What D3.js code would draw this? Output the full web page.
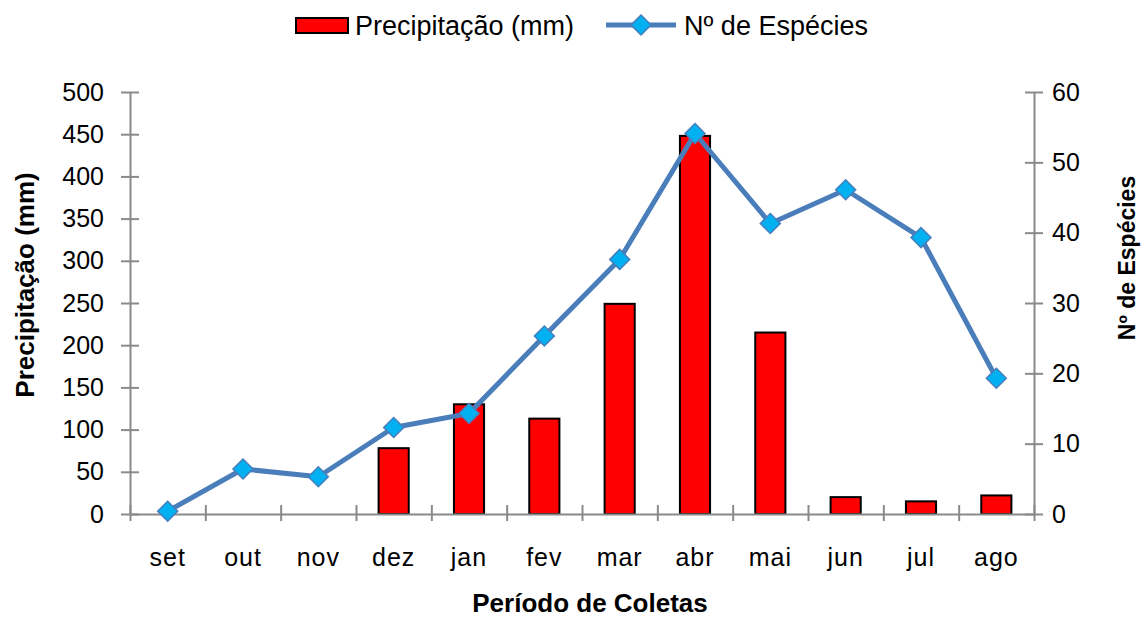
<!DOCTYPE html>
<html>
<head>
<meta charset="utf-8">
<script src="https://cdn.jsdelivr.net/npm/d3@7"></script>
<style>
  body { margin: 0; background: #fff; }
  svg text { font-family: "Liberation Sans", Arial, sans-serif; fill: #000; }
</style>
</head>
<body>
<div id="chart"></div>
<script>
// data
var months = ["set", "out", "nov", "dez", "jan", "fev", "mar", "abr", "mai", "jun", "jul", "ago"];
var precip = [0, 0, 0, 78, 130, 113, 249, 448, 215, 20, 15, 22];
var species = [0.4, 6.4, 5.3, 12.3, 14.3, 25.3, 36.2, 54.1, 41.3, 46.1, 39.3, 19.3];
var leftTicks = [0, 50, 100, 150, 200, 250, 300, 350, 400, 450, 500];
var rightTicks = [0, 10, 20, 30, 40, 50, 60];

var svgWidth = 1147;
var svgHeight = 617;

var margin = { top: 92, right: 113, bottom: 103, left: 130 };
var width = svgWidth - margin.left - margin.right;
var height = svgHeight - margin.top - margin.bottom;

var axisColor = "#8a8a8a";

var svg = d3.select("#chart")
  .append("svg")
  .attr("width", svgWidth)
  .attr("height", svgHeight);

var chartGroup = svg.append("g")
  .attr("transform", `translate(${margin.left}, ${margin.top})`);

// scales
var xBand = d3.scaleBand().domain(months).range([0, width]).padding(0);
var xEdge = d3.scaleLinear().domain([0, months.length]).range([0, width]);
var yLeft = d3.scaleLinear().domain([0, 500]).range([height, 0]);
var yRight = d3.scaleLinear().domain([0, 60]).range([height, 0]);

// bars
var barW = xBand.bandwidth() * 0.4;
chartGroup.selectAll("rect.bar")
  .data(precip)
  .enter()
  .append("rect")
  .attr("class", "bar")
  .attr("x", (d, i) => xBand(months[i]) + (xBand.bandwidth() - barW) / 2)
  .attr("y", d => yLeft(d))
  .attr("width", barW)
  .attr("height", d => height - yLeft(d))
  .attr("fill", "#ff0000")
  .attr("stroke", d => d > 0 ? "#000" : "none")
  .attr("stroke-width", 2);

// axes
function styleAxis(g) {
  g.select(".domain").attr("stroke", axisColor).attr("stroke-width", 2);
  g.selectAll(".tick line").attr("stroke", axisColor).attr("stroke-width", 2);
}

var leftAxis = chartGroup.append("g")
  .call(d3.axisLeft(yLeft).tickValues(leftTicks).tickSize(9).tickPadding(17).tickSizeOuter(0));
styleAxis(leftAxis);
leftAxis.selectAll(".tick line").attr("x1", 9);
leftAxis.selectAll("text").style("font-size", "25px").attr("fill", "#000");

var rightAxis = chartGroup.append("g")
  .attr("transform", `translate(${width}, 0)`)
  .call(d3.axisRight(yRight).tickValues(rightTicks).tickSize(9).tickPadding(9).tickSizeOuter(0));
styleAxis(rightAxis);
rightAxis.selectAll(".tick line").attr("x1", -9);
rightAxis.selectAll("text").style("font-size", "25px").attr("fill", "#000");

var edgeAxis = chartGroup.append("g")
  .attr("transform", `translate(0, ${height})`)
  .call(d3.axisBottom(xEdge).ticks(months.length).tickSize(7).tickFormat("").tickSizeOuter(0));
styleAxis(edgeAxis);
edgeAxis.selectAll(".tick line").attr("y1", -9);

var labelAxis = chartGroup.append("g")
  .attr("transform", `translate(0, ${height})`)
  .call(d3.axisBottom(xBand).tickSize(0).tickPadding(34));
labelAxis.select(".domain").remove();
labelAxis.selectAll("text").style("font-size", "25px").style("letter-spacing", "1px").attr("fill", "#000");

// species line
var line = d3.line()
  .x((d, i) => xBand(months[i]) + xBand.bandwidth() / 2)
  .y(d => yRight(d));

chartGroup.append("path")
  .datum(species)
  .attr("d", line)
  .attr("fill", "none")
  .attr("stroke", "#4a7ebb")
  .attr("stroke-width", 5)
  .attr("stroke-linejoin", "round");

var diamond = d3.symbol().type(d3.symbolSquare).size(200);
chartGroup.selectAll("path.marker")
  .data(species)
  .enter()
  .append("path")
  .attr("class", "marker")
  .attr("d", diamond)
  .attr("transform", (d, i) => `translate(${xBand(months[i]) + xBand.bandwidth() / 2}, ${yRight(d)}) rotate(45)`)
  .attr("fill", "#00b0f0")
  .attr("stroke", "#4a7ebb")
  .attr("stroke-width", 1.5);

// axis titles
svg.append("text")
  .attr("transform", "translate(34, 285) rotate(-90)")
  .attr("text-anchor", "middle")
  .style("font-size", "26px")
  .style("font-weight", "bold")
  .text("Precipitação (mm)");

svg.append("text")
  .attr("transform", "translate(1135, 258) rotate(-90)")
  .attr("text-anchor", "middle")
  .style("font-size", "23px")
  .style("font-weight", "bold")
  .text("Nº de Espécies");

svg.append("text")
  .attr("x", 590)
  .attr("y", 612)
  .attr("text-anchor", "middle")
  .style("font-size", "26px")
  .style("font-weight", "bold")
  .text("Período de Coletas");

// legend
var legend = svg.append("g");
legend.append("rect")
  .attr("x", 296).attr("y", 18).attr("width", 52).attr("height", 15)
  .attr("fill", "#ff0000").attr("stroke", "#000").attr("stroke-width", 2);
legend.append("text")
  .attr("x", 355).attr("y", 35)
  .style("font-size", "27px")
  .text("Precipitação (mm)");
legend.append("line")
  .attr("x1", 606).attr("x2", 676).attr("y1", 25).attr("y2", 25)
  .attr("stroke", "#4a7ebb").attr("stroke-width", 5);
legend.append("path")
  .attr("d", diamond)
  .attr("transform", "translate(641, 25) rotate(45)")
  .attr("fill", "#00b0f0").attr("stroke", "#4a7ebb").attr("stroke-width", 1.5);
legend.append("text")
  .attr("x", 684).attr("y", 35)
  .style("font-size", "27px")
  .text("Nº de Espécies");
</script>
</body>
</html>
